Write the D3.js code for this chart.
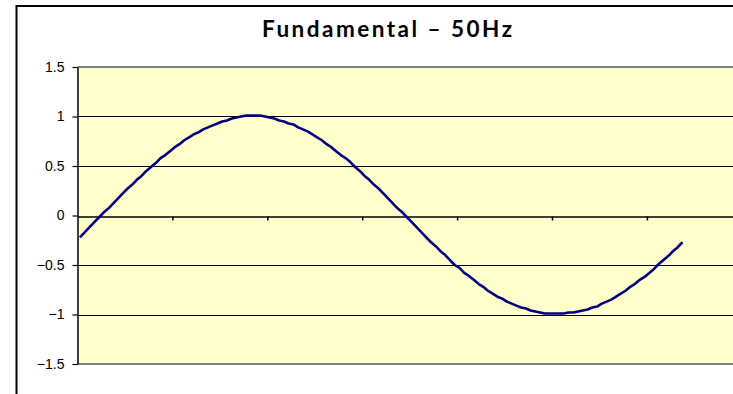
<!DOCTYPE html>
<html>
<head>
<meta charset="utf-8">
<script src="https://cdn.jsdelivr.net/npm/d3@7"></script>
<style>
    body { margin: 0; background: #fff; }
    svg { display: block; }
</style>
</head>
<body>
<svg id="chart_svg" width="733" height="394"></svg>
<script>
// values (one sample per category)
var values = [
    -0.22, -0.17, -0.12, -0.07, -0.02, 0.03, 0.07, 0.12, 0.17, 0.22,
    0.27, 0.31, 0.36, 0.40, 0.45, 0.49, 0.53, 0.58, 0.61, 0.65,
    0.69, 0.72, 0.76, 0.79, 0.82, 0.84, 0.87, 0.89, 0.91, 0.93,
    0.95, 0.96, 0.98, 0.99, 1.00, 1.01, 1.01, 1.01, 1.01, 1.00,
    0.99, 0.98, 0.96, 0.95, 0.93, 0.92, 0.89, 0.87, 0.85, 0.82,
    0.79, 0.76, 0.72, 0.69, 0.65, 0.61, 0.58, 0.54, 0.49, 0.45,
    0.40, 0.36, 0.31, 0.27, 0.22, 0.17, 0.12, 0.07, 0.03, -0.02,
    -0.07, -0.12, -0.17, -0.22, -0.27, -0.31, -0.36, -0.40, -0.45, -0.50,
    -0.53, -0.58, -0.61, -0.65, -0.69, -0.72, -0.76, -0.79, -0.82, -0.84,
    -0.87, -0.89, -0.91, -0.93, -0.94, -0.96, -0.97, -0.98, -0.99, -0.99,
    -0.99, -0.99, -0.99, -0.98, -0.98, -0.97, -0.96, -0.95, -0.93, -0.92,
    -0.89, -0.87, -0.85, -0.82, -0.79, -0.76, -0.72, -0.69, -0.65, -0.62,
    -0.58, -0.54, -0.49, -0.45, -0.41, -0.36, -0.32, -0.27
];
var yTicks = [-1.5, -1, -0.5, 0, 0.5, 1, 1.5];
var gridValues = [-1, -0.5, 0.5, 1];
var xTickEvery = 20;
var categorySlots = 140;   // axis runs on past the right edge of the window
var titleText = "Fundamental \u2013 50Hz";

var svg = d3.select("#chart_svg");
var plot = { left: 77.5, top: 67, bottom: 364 };
plot.right = plot.left + categorySlots * 4.745;

var xScale = d3.scaleLinear().domain([0, categorySlots]).range([plot.left, plot.right]);
var yScale = d3.scaleLinear().domain([-1.5, 1.5]).range([plot.bottom, plot.top]);

// outer chart frame
svg.append("rect")
    .attr("x", 16.5).attr("y", 6)
    .attr("width", 800).attr("height", 500)
    .attr("fill", "#fff")
    .attr("stroke", "#000")
    .attr("stroke-width", 2);

svg.append("text")
    .attr("x", 387)
    .attr("y", 37)
    .attr("text-anchor", "middle")
    .attr("textLength", 250)
    .attr("lengthAdjust", "spacing")
    .style("font-family", "Lato, 'Open Sans', sans-serif")
    .style("font-weight", "bold")
    .style("font-size", "22.5px")
    .text(titleText);

// plot area
svg.append("rect")
    .attr("x", plot.left).attr("y", plot.top)
    .attr("width", plot.right - plot.left)
    .attr("height", plot.bottom - plot.top)
    .attr("fill", "#FFFFCC");

svg.append("g").selectAll("line")
    .data(gridValues)
    .enter()
    .append("line")
    .attr("x1", plot.left).attr("x2", plot.right)
    .attr("y1", d => Math.round(yScale(d)) + 0.5)
    .attr("y2", d => Math.round(yScale(d)) + 0.5)
    .attr("stroke", "#000")
    .attr("stroke-width", 1.2);

// gray border top and bottom of plot
svg.append("g").selectAll("line")
    .data([1.5, -1.5])
    .enter()
    .append("line")
    .attr("x1", plot.left).attr("x2", plot.right)
    .attr("y1", d => yScale(d)).attr("y2", d => yScale(d))
    .attr("stroke", "#808080")
    .attr("stroke-width", 2);

// y axis
var yAxis = d3.axisLeft(yScale)
    .tickValues(yTicks)
    .tickFormat(d3.format("~g"))
    .tickSizeInner(5)
    .tickSizeOuter(0)
    .tickPadding(8);

var yG = svg.append("g")
    .attr("transform", "translate(" + plot.left + ",0)")
    .call(yAxis);
yG.select(".domain").attr("stroke", "#000").attr("stroke-width", 1.5);
yG.selectAll(".tick line").attr("stroke", "#000").attr("stroke-width", 1.2);
yG.selectAll(".tick text")
    .attr("font-family", "'Liberation Sans', Arial, sans-serif")
    .attr("font-size", 14)
    .attr("fill", "#000");
yG.attr("font-size", 14);

// x axis at zero, ticks between category groups
var xTicks = d3.range(xTickEvery, categorySlots + 1, xTickEvery);
var xAxis = d3.axisBottom(xScale)
    .tickValues(xTicks)
    .tickFormat("")
    .tickSizeInner(4)
    .tickSizeOuter(0);

var xG = svg.append("g")
    .attr("transform", "translate(0," + (Math.round(yScale(0)) + 0.5) + ")")
    .call(xAxis);
xG.select(".domain").attr("stroke", "#000").attr("stroke-width", 1.5);
xG.selectAll(".tick line").attr("stroke", "#000").attr("stroke-width", 1.5);

// the wave
var line = d3.line()
    .x((d, i) => xScale(i + 0.5))
    .y(d => yScale(d));

svg.append("path")
    .datum(values)
    .attr("d", line)
    .attr("fill", "none")
    .attr("stroke", "#000080")
    .attr("stroke-width", 2.6)
    .attr("stroke-linejoin", "round");
</script>
</body>
</html>
